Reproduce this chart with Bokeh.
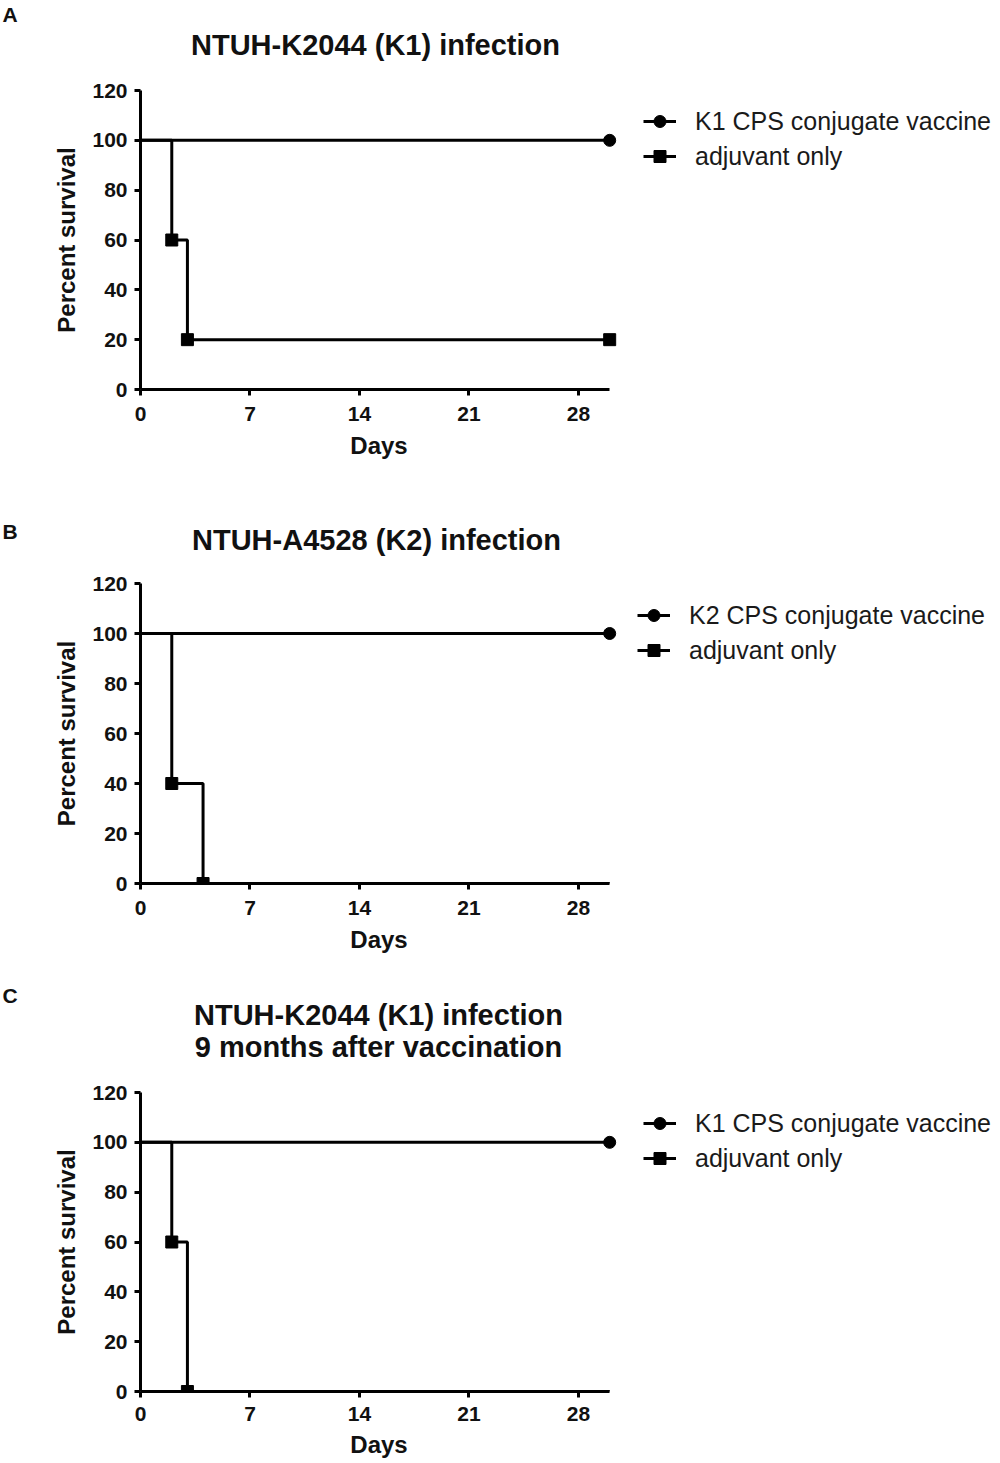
from bokeh.plotting import figure
from bokeh.layouts import column, row
from bokeh.models import Range1d, FixedTicker, Legend, LegendItem, Label
from bokeh.embed import file_html
from bokeh.resources import INLINE

FONT = "Liberation Sans"
INK = "#111111"

# ---------------- data ----------------
day_ticks = [0, 7, 14, 21, 28]
pct_ticks = [0, 20, 40, 60, 80, 100, 120]

vac_days = [0, 30]
vac_surv = [100, 100]
vac_mark_days = [30]
vac_mark_surv = [100]

a_days = [0, 2, 3, 30]
a_surv = [100, 60, 20, 20]
a_mark_days = [2, 3, 30]
a_mark_surv = [60, 20, 20]

b_days = [0, 2, 4, 30]
b_surv = [100, 40, 0, 0]
b_mark_days = [2, 4]
b_mark_surv = [40, 0]

c_days = [0, 2, 3, 30]
c_surv = [100, 60, 0, 0]
c_mark_days = [2, 3]
c_mark_surv = [60, 0]

panel_letters = ["A", "B", "C"]
panel_titles = [["NTUH-K2044 (K1) infection"],
                ["NTUH-A4528 (K2) infection"],
                ["NTUH-K2044 (K1) infection", "9 months after vaccination"]]
vaccine_labels = ["K1 CPS conjugate vaccine", "K2 CPS conjugate vaccine", "K1 CPS conjugate vaccine"]
adjuvant_label = "adjuvant only"

TOTAL_W = 998
PLOT_W = 620


def header(height, letter, letter_base, title_lines, title_x, title_bases):
    h = figure(width=TOTAL_W, height=height, output_backend="svg", toolbar_location=None,
               x_range=Range1d(0, TOTAL_W), y_range=Range1d(height, 0),
               x_axis_location=None, y_axis_location=None,
               min_border=0, title=None)
    h.outline_line_color = None
    h.grid.visible = False
    h.add_layout(Label(x=2, y=letter_base, text=letter, text_align="left",
                       text_baseline="alphabetic", text_font=FONT,
                       text_font_style="bold", text_font_size="21px", text_color=INK))
    for txt, yb in zip(title_lines, title_bases):
        h.add_layout(Label(x=title_x, y=yb, text=txt, text_align="center",
                           text_baseline="alphabetic", text_font=FONT,
                           text_font_style="bold", text_font_size="29px", text_color=INK))
    return h


def draw_series(p, adj_days, adj_surv, adj_md, adj_ms):
    r1 = p.line(vac_days, vac_surv, line_color="black", line_width=3)
    r2 = p.scatter(vac_mark_days, vac_mark_surv, marker="circle", size=12,
                   fill_color="black", line_color="black")
    r3 = p.step(adj_days, adj_surv, mode="after", line_color="black", line_width=3)
    r4 = p.scatter(adj_md, adj_ms, marker="square", size=12,
                   fill_color="black", line_color="black")
    return r1, r2, r3, r4


def plot_panel(height, btop, bbottom, adj, xs1, xs2):
    p = figure(width=PLOT_W, height=height, output_backend="svg", toolbar_location=None,
               x_range=Range1d(0, 30.5), y_range=Range1d(0, 120),
               min_border_left=140, min_border_right=3,
               min_border_top=btop, min_border_bottom=bbottom, title=None)
    p.outline_line_color = None
    p.grid.visible = False
    for ax in (p.xaxis[0], p.yaxis[0]):
        ax.axis_line_width = 3
        ax.axis_line_color = "black"
        ax.major_tick_line_width = 3
        ax.major_tick_line_color = "black"
        ax.major_tick_out = 6
        ax.major_tick_in = 0
        ax.minor_tick_line_color = None
        ax.major_label_text_font = FONT
        ax.major_label_text_font_style = "bold"
        ax.major_label_text_font_size = "21px"
        ax.major_label_text_color = INK
        ax.axis_label_text_font = FONT
        ax.axis_label_text_font_style = "bold"
        ax.axis_label_text_font_size = "24px"
        ax.axis_label_text_color = INK
    p.xaxis.ticker = FixedTicker(ticks=day_ticks)
    p.yaxis.ticker = FixedTicker(ticks=pct_ticks)
    p.xaxis.bounds = (0, 30)
    p.xaxis.axis_label = "Days"
    p.yaxis.axis_label = "Percent survival"
    p.xaxis.major_label_standoff = xs1
    p.xaxis.axis_label_standoff = xs2
    p.yaxis.major_label_standoff = 7
    p.yaxis.axis_label_standoff = 9
    draw_series(p, *adj)
    return p


def legend_panel(height, btop, vac_label, adj, left, gap):
    # frame top matches the plot's frame top (rows align frames); legend sits inside it
    lf = figure(width=TOTAL_W - PLOT_W, height=height, output_backend="svg",
                toolbar_location=None, x_range=Range1d(1000, 1001), y_range=Range1d(0, 1),
                x_axis_location=None, y_axis_location=None,
                min_border_left=left, min_border_top=btop,
                min_border_right=0, min_border_bottom=0, title=None)
    lf.outline_line_color = None
    lf.grid.visible = False
    r1, r2, r3, r4 = draw_series(lf, *adj)
    leg = Legend(items=[LegendItem(label=vac_label, renderers=[r1, r2]),
                        LegendItem(label=adjuvant_label, renderers=[r3, r4])],
                 location="top_left")
    leg.border_line_color = None
    leg.background_fill_alpha = 0
    leg.padding = 0
    leg.margin = gap
    leg.spacing = 5
    leg.glyph_width = 33
    leg.glyph_height = 30
    leg.label_height = 30
    leg.label_standoff = 19
    leg.label_text_font = FONT
    leg.label_text_font_size = "25px"
    leg.label_text_color = "#1a1a1a"
    lf.add_layout(leg, "center")
    return lf


adjA = (a_days, a_surv, a_mark_days, a_mark_surv)
adjB = (b_days, b_surv, b_mark_days, b_mark_surv)
adjC = (c_days, c_surv, c_mark_days, c_mark_surv)

hA = header(70, panel_letters[0], 14, panel_titles[0], 375, [44])
pA = plot_panel(430, 20, 111, adjA, 11, 8)
lA = legend_panel(430, 20, vaccine_labels[0], adjA, 7, 16)

hB = header(70, panel_letters[1], 31, panel_titles[1], 376, [39])
pB = plot_panel(415, 13, 102, adjB, 11, 8)
lB = legend_panel(415, 13, vaccine_labels[1], adjB, 0, 17)

hC = header(88, panel_letters[2], 10, panel_titles[2], 378, [29, 61])
pC = plot_panel(390, 19, 72, adjC, 9, 7)
lC = legend_panel(390, 19, vaccine_labels[2], adjC, 7, 16)

layout = column(hA, row(pA, lA, spacing=0), hB, row(pB, lB, spacing=0),
                hC, row(pC, lC, spacing=0), spacing=0)
open("out.html", "w").write(file_html(layout, INLINE))
